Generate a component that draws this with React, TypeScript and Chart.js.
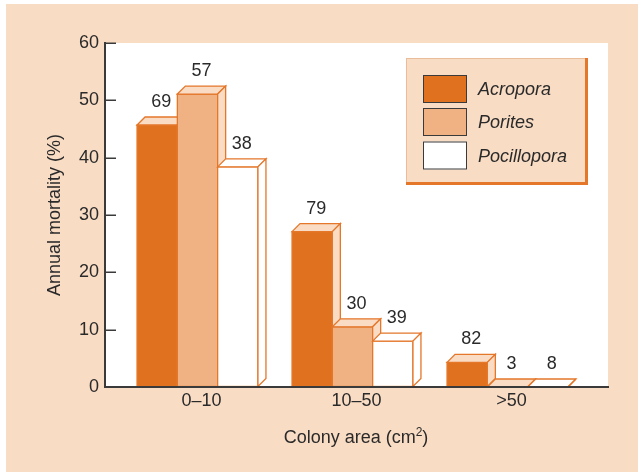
import React, { useEffect, useRef } from "react";
import { Chart, registerables } from "chart.js";

Chart.register(...registerables);

const categories = ["0–10", "10–50", ">50"];
const seriesNames = ["Acropora", "Porites", "Pocillopora"];
const acropora = [45.7, 27.1, 4.3];
const porites = [51.1, 10.5, 0];
const pocillopora = [38.4, 8.0, 0];
const acroporaN = [69, 79, 82];
const poritesN = [57, 30, 3];
const pocilloporaN = [38, 39, 8];
const yTickValues = [0, 10, 20, 30, 40, 50, 60];

const FONT = "'Liberation Sans', Arial, Helvetica, sans-serif";
const PEACH = "#F9DCC4";
const ORANGE_LINE = "#E4772A";
const frontColors = ["#E0711F", "#F0B283", "#FFFFFF"];
const faceColors = ["#FADBC4", "#FADBC4", "#FFFFFF"];
const TEXT = "#2a2a2a";
const DEPTH = 8;

const seriesValues = [acropora, porites, pocillopora];
const seriesCounts = [acroporaN, poritesN, pocilloporaN];

const decorPlugin = {
  id: "decor",
  beforeDraw(chart: any) {
    const { ctx, chartArea, width, height } = chart;
    ctx.save();
    ctx.fillStyle = "#FFFFFF";
    ctx.fillRect(0, 0, width, height);
    ctx.fillStyle = PEACH;
    ctx.fillRect(6, 4, width - 6, height - 4);
    ctx.fillStyle = "#FFFFFF";
    ctx.fillRect(chartArea.left, chartArea.top, chartArea.right - chartArea.left, chartArea.bottom - chartArea.top);
    ctx.restore();
  },
  afterDatasetsDraw(chart: any) {
    const { ctx, chartArea } = chart;
    ctx.save();
    ctx.lineWidth = 1.3;
    ctx.lineJoin = "miter";
    chart.data.datasets.forEach((ds: any, di: number) => {
      const meta = chart.getDatasetMeta(di);
      meta.data.forEach((el: any, i: number) => {
        const { x, y, base, width } = el.getProps(["x", "y", "base", "width"], true);
        const l = x - width / 2;
        const r = x + width / 2;
        ctx.strokeStyle = ORANGE_LINE;
        // front
        ctx.fillStyle = frontColors[di];
        ctx.fillRect(l, y, width, base - y);
        if (base - y > 0.5) ctx.strokeRect(l, y, width, base - y);
        // top
        ctx.beginPath();
        ctx.moveTo(l, y);
        ctx.lineTo(l + DEPTH, y - DEPTH);
        ctx.lineTo(r + DEPTH, y - DEPTH);
        ctx.lineTo(r, y);
        ctx.closePath();
        ctx.fillStyle = faceColors[di];
        ctx.fill();
        ctx.stroke();
        // side
        ctx.beginPath();
        ctx.moveTo(r, y);
        ctx.lineTo(r + DEPTH, y - DEPTH);
        ctx.lineTo(r + DEPTH, base - DEPTH);
        ctx.lineTo(r, base);
        ctx.closePath();
        ctx.fill();
        ctx.stroke();
        // count label
        ctx.fillStyle = TEXT;
        ctx.font = `18px ${FONT}`;
        ctx.textAlign = "center";
        ctx.textBaseline = "alphabetic";
        ctx.fillText(String(seriesCounts[di][i]), x + DEPTH / 2, y - DEPTH - 10);
      });
    });
    // x axis line on top of bars
    ctx.strokeStyle = "#3a3a3a";
    ctx.lineWidth = 2;
    ctx.beginPath();
    ctx.moveTo(chartArea.left, chartArea.bottom);
    ctx.lineTo(chartArea.right, chartArea.bottom);
    ctx.stroke();
    // inward y ticks
    const yScale = chart.scales.y;
    ctx.lineWidth = 1.5;
    yScale.ticks.forEach((t: any) => {
      const py = Math.round(yScale.getPixelForValue(t.value)) + 0.25;
      ctx.beginPath();
      ctx.moveTo(chartArea.left, py);
      ctx.lineTo(chartArea.left + 11, py);
      ctx.stroke();
    });
    ctx.restore();
  },
  afterDraw(chart: any) {
    const { ctx } = chart;
    ctx.save();
    // y title
    ctx.fillStyle = TEXT;
    ctx.font = `18px ${FONT}`;
    ctx.translate(55, 215);
    ctx.rotate(-Math.PI / 2);
    ctx.textAlign = "center";
    ctx.textBaseline = "middle";
    ctx.fillText("Annual mortality (%)", 0, 0);
    ctx.restore();

    // x title with superscript
    ctx.save();
    ctx.fillStyle = TEXT;
    ctx.textBaseline = "alphabetic";
    ctx.textAlign = "left";
    const main = "Colony area (cm";
    const sup = "2";
    const close = ")";
    ctx.font = `18px ${FONT}`;
    const w1 = ctx.measureText(main).width;
    const w3 = ctx.measureText(close).width;
    ctx.font = `12px ${FONT}`;
    const w2 = ctx.measureText(sup).width;
    const total = w1 + w2 + w3;
    let sx = 356 - total / 2;
    const by = 443;
    ctx.font = `18px ${FONT}`;
    ctx.fillText(main, sx, by);
    sx += w1;
    ctx.font = `12px ${FONT}`;
    ctx.fillText(sup, sx, by - 7);
    sx += w2;
    ctx.font = `18px ${FONT}`;
    ctx.fillText(close, sx, by);
    ctx.restore();

    // legend
    ctx.save();
    const lx = 406, ly = 58, lw = 182, lh = 127;
    ctx.fillStyle = PEACH;
    ctx.fillRect(lx, ly, lw, lh);
    ctx.strokeStyle = "#E9BC9A";
    ctx.lineWidth = 1;
    ctx.strokeRect(lx + 0.5, ly + 0.5, lw - 1, lh - 1);
    ctx.fillStyle = ORANGE_LINE;
    ctx.fillRect(lx + lw - 3, ly, 3, lh);
    ctx.fillRect(lx, ly + lh - 3, lw, 3);
    const rows = [89, 122, 155.5];
    seriesNames.forEach((name, k) => {
      const cy = rows[k];
      ctx.fillStyle = frontColors[k];
      ctx.fillRect(423, cy - 14, 44, 28);
      ctx.strokeStyle = "#3a3a3a";
      ctx.lineWidth = 1;
      ctx.strokeRect(423.5, cy - 13.5, 43, 27);
      ctx.fillStyle = TEXT;
      ctx.font = `italic 18px ${FONT}`;
      ctx.textAlign = "left";
      ctx.textBaseline = "middle";
      ctx.fillText(name, 478, cy + 1);
    });
    ctx.restore();
  },
};

export default function App() {
  const canvasRef = useRef<HTMLCanvasElement | null>(null);

  useEffect(() => {
    document.body.style.margin = "0";
    const canvas = canvasRef.current;
    if (!canvas) return;
    const xMin = -92.5 / 155;
    const xMax = xMin + 503 / 155;
    const chart = new Chart(canvas, {
      type: "bar",
      data: {
        datasets: seriesNames.map((name, di) => ({
          label: name,
          data: categories.map((_, i) => ({ x: i, y: seriesValues[di][i] })),
          backgroundColor: "rgba(0,0,0,0)",
          borderWidth: 0,
          categoryPercentage: 0.78,
          barPercentage: 1,
        })),
      },
      options: {
        animation: false,
        responsive: false,
        devicePixelRatio: 1,
        layout: { padding: { left: 0, right: 30, top: 43, bottom: 0 } },
        plugins: {
          legend: { display: false },
          tooltip: { enabled: false },
        },
        scales: {
          x: {
            type: "linear",
            min: xMin,
            max: xMax,
            offset: false,
            bounds: "data",
            grid: { display: true, drawOnChartArea: false, drawTicks: false, offset: false },
            border: { display: true, color: "#3a3a3a", width: 2 },
            afterBuildTicks: (scale: any) => {
              scale.ticks = categories.map((_, i) => ({ value: i + DEPTH / 2 / 155 }));
            },
            afterFit: (scale: any) => {
              scale.height = 85;
            },
            ticks: {
              autoSkip: false,
              maxRotation: 0,
              padding: 3,
              color: TEXT,
              font: { family: FONT, size: 18 },
              callback: (v: any) => categories[Math.round(Number(v))],
            },
          },
          y: {
            min: 0,
            max: 60,
            afterBuildTicks: (scale: any) => {
              scale.ticks = yTickValues.map((v) => ({ value: v }));
            },
            afterFit: (scale: any) => {
              scale.width = 105;
            },
            grid: { display: true, drawOnChartArea: false, drawTicks: false },
            border: { display: true, color: "#3a3a3a", width: 2 },
            ticks: {
              padding: 6,
              color: TEXT,
              font: { family: FONT, size: 18 },
            },
          },
        },
      },
      plugins: [decorPlugin],
    } as any);
    return () => chart.destroy();
  }, []);

  return (
    <div style={{ width: 638, height: 472 }}>
      <canvas ref={canvasRef} width={638} height={472} style={{ display: "block" }} />
    </div>
  );
}
